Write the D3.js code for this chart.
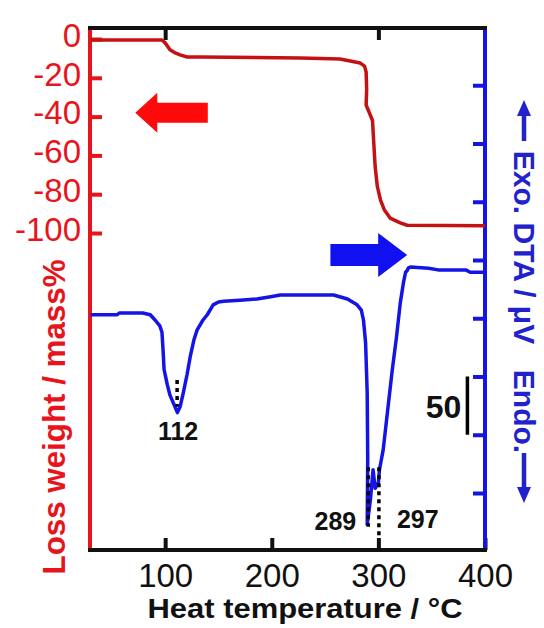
<!DOCTYPE html>
<html>
<head>
<meta charset="utf-8">
<script src="https://cdn.jsdelivr.net/npm/d3@7"></script>
<style>
  body { margin: 0; background: #fff; }
  svg { display: block; font-family: "Liberation Sans", Arial, sans-serif; }
</style>
</head>
<body>
<svg id="canvas"></svg>
<script>
/** Data */
// TG curve: temperature (°C) and weight loss (mass%)
let tgTemp = [30, 97, 100, 104.5, 109.5, 114, 120.5, 133, 227, 264, 283, 287, 288.5, 289, 288.5, 291.5, 294.5, 295.5, 297, 299, 302, 305.5, 311, 320.5, 327, 400];
let tgLoss = [-0.5, -0.5, -2, -5.5, -7.2, -8.2, -9.3, -9.3, -9.8, -10.3, -12.4, -14, -17, -26, -34, -38, -42, -52, -66, -76, -83, -88, -92.3, -94.8, -96, -96.3];

// DTA curve: temperature (°C) and signal (µV, arbitrary zero)
let dtaTemp = [30, 55, 57, 79, 86, 90.5, 95, 97, 98, 99, 102, 104.5, 108.5, 111.5, 114, 117, 120.5, 123.5, 127, 130, 135.5, 139.5, 145, 150, 155, 170, 186, 199, 208, 258, 271, 280, 284, 286, 288, 289.5, 290, 289.5, 292.5, 295, 297, 300, 301, 304.5, 309.5, 313, 317, 320.5, 323.5, 325.5, 327, 328, 330, 347, 356, 382, 386, 400];
let dtaSignal = [-47, -47, -45.5, -45.5, -47, -51.5, -56.5, -62, -77, -94, -107, -116, -124.5, -131, -126, -114, -98.5, -83, -68.5, -60, -51.5, -47, -38.5, -36, -35.5, -34.5, -33.5, -31.5, -30, -30, -33.5, -38.5, -43, -51.5, -71, -114, -171, -227, -206, -180, -196, -191, -180, -163, -122.5, -94.5, -66, -37, -19.5, -10.5, -9, -7, -6, -7, -8.5, -8.5, -10.5, -10.5];

// peak markers (dotted lines) on the DTA curve
let peakTemp = [111.2, 290.5, 300.5];
let peakTop = [-103, -178, -178];
let peakBottom = [-126, -229, -238];
let peakLabels = ['112', '289', '297'];

// tick values
let tempTicks = [100, 200, 300, 400];
let topTicks = [100, 300];
let tgTicks = [0, -20, -40, -60, -80, -100];
let dtaTicks = [150, 100, 50, 0, -50, -100, -150, -200];

// 50 µV scale bar
let barTemp = 383.5;
let barFrom = -100;
let barTo = -150;
let barLabel = '50';

/** Layout */
let width = 544;
let height = 628;
let plotLeft = 90;
let plotRight = 485;
let plotTop = 28;
let plotBottom = 550;

let red = '#e8141c';
let darkRed = '#c41212';
let blue = '#1414e6';
let blueText = '#2222cc';

let canvas = d3.select('#canvas').attr('width', width).attr('height', height);

let xScale = d3.scaleLinear().domain([29.5, 400]).range([plotLeft, plotRight]);
let yTg = d3.scaleLinear().domain([0, -100]).range([39, 233]);
let yDta = d3.scaleLinear().domain([0, -200]).range([260, 493]);

/** Axes (ticks point inward) */
const styleAxis = (g, color, size) => {
    g.select('.domain').remove();
    g.selectAll('.tick line').attr('stroke', color).attr('stroke-width', 4);
    g.selectAll('.tick text').attr('fill', color).attr('font-size', size);
};

canvas.append('g')
    .attr('transform', `translate(${plotLeft}, 0)`)
    .call(d3.axisLeft(yTg).tickValues(tgTicks).tickSizeInner(-12).tickSizeOuter(0)
        .tickPadding(9).tickFormat(d => String(d)))
    .call(g => styleAxis(g, red, 33))
    .call(g => g.selectAll('.tick text').attr('dy', '0.22em'));

canvas.append('g')
    .attr('transform', `translate(0, ${plotBottom})`)
    .call(d3.axisBottom(xScale).tickValues(tempTicks).tickSizeInner(-12).tickSizeOuter(0)
        .tickPadding(14).tickFormat(d => String(d)))
    .call(g => styleAxis(g, '#111', 33));

canvas.append('g')
    .attr('transform', `translate(0, ${plotTop})`)
    .call(d3.axisTop(xScale).tickValues(topTicks).tickSizeInner(-12).tickSizeOuter(0).tickFormat(''))
    .call(g => styleAxis(g, '#111', 10));

canvas.append('g')
    .attr('transform', `translate(${plotRight}, 0)`)
    .call(d3.axisRight(yDta).tickValues(dtaTicks).tickSizeInner(-12).tickSizeOuter(0).tickFormat(''))
    .call(g => styleAxis(g, blue, 10));

// frame
canvas.append('line').attr('x1', plotLeft).attr('x2', plotLeft).attr('y1', plotTop).attr('y2', plotBottom)
    .attr('stroke', red).attr('stroke-width', 4);
canvas.append('line').attr('x1', plotRight).attr('x2', plotRight).attr('y1', plotTop).attr('y2', plotBottom)
    .attr('stroke', blue).attr('stroke-width', 4);
[plotTop, plotBottom].forEach(y => {
    canvas.append('line').attr('x1', plotLeft - 2).attr('x2', plotRight + 2).attr('y1', y).attr('y2', y)
        .attr('stroke', '#111').attr('stroke-width', 4);
});

/** Curves */
let tgLine = d3.line()
    .x((d, i) => xScale(tgTemp[i]))
    .y((d, i) => yTg(tgLoss[i]));

let dtaLine = d3.line()
    .x((d, i) => xScale(dtaTemp[i]))
    .y((d, i) => yDta(dtaSignal[i]));

canvas.append('path')
    .attr('d', tgLine(tgTemp))
    .attr('fill', 'none').attr('stroke', darkRed).attr('stroke-width', 3.5)
    .attr('stroke-linejoin', 'round');

canvas.append('path')
    .attr('d', dtaLine(dtaTemp))
    .attr('fill', 'none').attr('stroke', blue).attr('stroke-width', 3.5)
    .attr('stroke-linejoin', 'round');

/** Peak markers */
peakTemp.forEach((t, i) => {
    canvas.append('line')
        .attr('x1', xScale(t)).attr('x2', xScale(t))
        .attr('y1', yDta(peakTop[i])).attr('y2', yDta(peakBottom[i]))
        .attr('stroke', '#000').attr('stroke-width', 3.5)
        .attr('stroke-dasharray', '4,4');
});

// label placement per peak: [anchor, dx, baseline y offset from bottom of marker]
let labelPlace = [['middle', 1, 33], ['end', -12, 3], ['start', 18, -9]];
peakLabels.forEach((label, i) => {
    canvas.append('text')
        .attr('x', xScale(peakTemp[i]) + labelPlace[i][1])
        .attr('y', yDta(peakBottom[i]) + labelPlace[i][2])
        .attr('text-anchor', labelPlace[i][0])
        .attr('font-size', 25).attr('font-weight', 'bold').attr('fill', '#111')
        .text(label);
});

// scale bar
canvas.append('line')
    .attr('x1', xScale(barTemp)).attr('x2', xScale(barTemp))
    .attr('y1', yDta(barFrom)).attr('y2', yDta(barTo))
    .attr('stroke', '#000').attr('stroke-width', 3.5);
canvas.append('text')
    .attr('x', xScale(barTemp) - 6)
    .attr('y', (yDta(barFrom) + yDta(barTo)) / 2 + 12)
    .attr('text-anchor', 'end')
    .attr('font-size', 32).attr('font-weight', 'bold').attr('fill', '#111')
    .text(barLabel);

/** Arrows telling which axis a curve belongs to */
const blockArrow = (x0, x1, y, head, headHalf, shaftHalf, color) => {
    let dir = x1 > x0 ? 1 : -1;
    let xb = x1 - dir * head;
    let pts = [[x0, y - shaftHalf], [xb, y - shaftHalf], [xb, y - headHalf], [x1, y],
        [xb, y + headHalf], [xb, y + shaftHalf], [x0, y + shaftHalf]];
    canvas.append('path').attr('d', 'M' + pts.join('L') + 'Z').attr('fill', color);
};
blockArrow(xScale(140), xScale(72), yTg(-38), 22, 20, 10, '#ff0a0a');
blockArrow(xScale(255), xScale(327), yDta(4.3), 29, 22, 11, '#1010f0');

/** Axis titles */
canvas.append('text')
    .attr('x', 305).attr('y', 618)
    .attr('text-anchor', 'middle')
    .attr('font-size', 27).attr('font-weight', 'bold').attr('fill', '#111')
    .attr('textLength', 315).attr('lengthAdjust', 'spacingAndGlyphs')
    .text('Heat temperature / °C');

canvas.append('text')
    .attr('transform', 'translate(65, 417) rotate(-90)')
    .attr('text-anchor', 'middle')
    .attr('font-size', 32).attr('font-weight', 'bold').attr('fill', red)
    .attr('textLength', 315).attr('lengthAdjust', 'spacingAndGlyphs')
    .text('Loss weight / mass%');

canvas.append('text')
    .attr('transform', 'translate(514, 247.5) rotate(90)')
    .attr('text-anchor', 'middle')
    .attr('font-size', 30).attr('font-weight', 'bold').attr('fill', blueText)
    .text('Exo. DTA / μV');

canvas.append('text')
    .attr('transform', 'translate(514, 411.5) rotate(90)')
    .attr('text-anchor', 'middle')
    .attr('font-size', 30).attr('font-weight', 'bold').attr('fill', blueText)
    .text('Endo.');

// thin arrows next to the right title
const thinArrow = (x, yTail, yTip) => {
    let dir = yTip > yTail ? 1 : -1;
    let yb = yTip - dir * 16;
    canvas.append('line').attr('x1', x).attr('x2', x).attr('y1', yTail).attr('y2', yb)
        .attr('stroke', blueText).attr('stroke-width', 4.5);
    canvas.append('path')
        .attr('d', `M${x - 7},${yb}L${x + 7},${yb}L${x},${yTip}Z`)
        .attr('fill', blueText);
};
thinArrow(524, 141, 100);
thinArrow(524, 453, 503);
</script>
</body>
</html>
